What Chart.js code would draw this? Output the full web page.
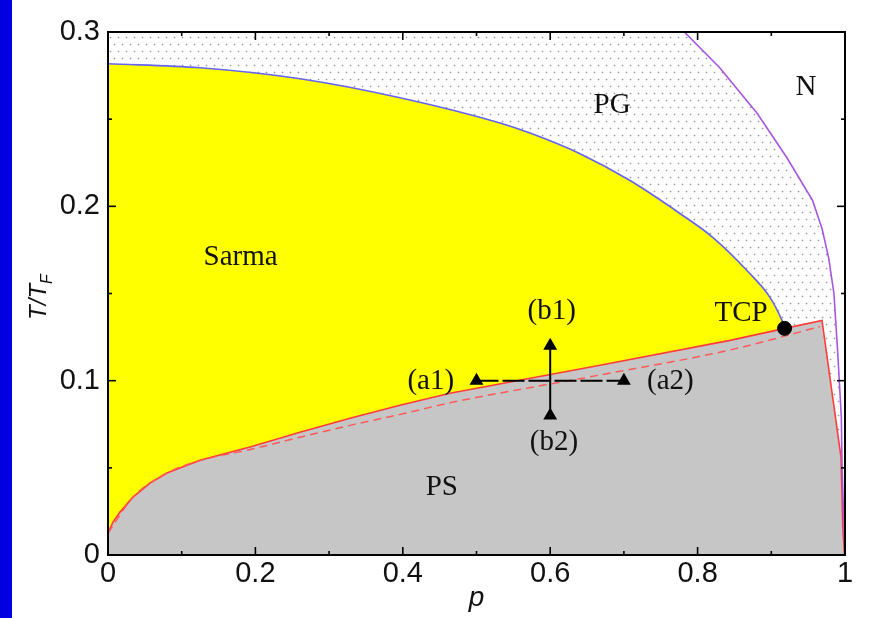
<!DOCTYPE html>
<html><head><meta charset="utf-8">
<script src="https://cdn.jsdelivr.net/npm/chart.js@4.4.1/dist/chart.umd.min.js"></script>
<style>html,body{margin:0;padding:0;background:#fff;overflow:hidden}</style>
</head><body>
<canvas id="c" width="872" height="618"></canvas>
<script>
// ---- tick labels ----
const xTicks = [0, 0.2, 0.4, 0.6, 0.8, 1];
const xMinorTicks = [0.1, 0.3, 0.5, 0.7, 0.9];
const yTicks = [0, 0.1, 0.2, 0.3];
const yMinorTicks = [0.05, 0.15, 0.25];

// ---- Sarma / PG boundary (blue) ----
const sarmaP = [0, 0.1248, 0.2605, 0.3962, 0.5319, 0.5726, 0.6404, 0.7083, 0.7761, 0.8209, 0.8670, 0.8982, 0.9145, 0.9186];
const sarmaT = [0.2818, 0.2795, 0.2732, 0.2623, 0.2478, 0.2420, 0.2302, 0.2148, 0.1959, 0.1821, 0.1632, 0.1478, 0.1346, 0.1300];

// ---- PS boundary (solid red) ----
const psP = [0, 0.0068, 0.0163, 0.0339, 0.057, 0.080, 0.1248, 0.1927, 0.2605, 0.3284, 0.3962, 0.464, 0.6676, 0.844, 0.9186, 0.9688, 0.9946, 0.997, 0.9993];
const psT = [0.0126, 0.0189, 0.0246, 0.0332, 0.0412, 0.047, 0.0544, 0.0619, 0.0704, 0.0785, 0.0859, 0.0928, 0.1088, 0.1231, 0.1300, 0.1346, 0.056, 0.016, 0.0];

// ---- dashed red boundary ----
const dashP = [0, 0.034, 0.080, 0.125, 0.193, 0.26, 0.33, 0.40, 0.464, 0.668, 0.844, 0.966];
const dashT = [0.0126, 0.0332, 0.047, 0.0542, 0.0605, 0.0675, 0.0745, 0.081, 0.0873, 0.1033, 0.1176, 0.131];

// ---- N boundary (purple) ----
const nP = [0.782, 0.830, 0.881, 0.921, 0.956, 0.969, 0.978, 0.985, 0.990, 0.995, 0.996, 0.998, 1.0];
const nT = [0.300, 0.2795, 0.2532, 0.2280, 0.2034, 0.1870, 0.1700, 0.1500, 0.1170, 0.0790, 0.0504, 0.025, 0.0];

// ---- tricritical point and paths ----
const tcpP = [0.918];
const tcpT = [0.130];
const pathAP = [0.5, 0.7];
const pathAT = [0.1, 0.1];
const pathBP = [0.6, 0.6];
const pathBT = [0.08, 0.12];

// ---- region / point labels ----
const labelText = ['PG', 'N', 'Sarma', 'TCP', '(b1)', '(a1)', '(a2)', '(b2)', 'PS'];
const labelP = [0.684, 0.947, 0.180, 0.859, 0.602, 0.438, 0.763, 0.605, 0.453];
const labelT = [0.2577, 0.268, 0.1707, 0.1386, 0.1397, 0.0997, 0.0997, 0.0647, 0.039];

const pts = (xs, ys) => xs.map((x, i) => ({x: x, y: ys[i]}));

const dotTile = (() => {
  const c = document.createElement('canvas'); c.width = 8; c.height = 14;
  const g = c.getContext('2d');
  g.fillStyle = '#ffffff'; g.fillRect(0, 0, 8, 14);
  const dot = (x, y) => {
    g.fillStyle = '#e2e2e2';
    g.fillRect(x - 1, y, 1, 1); g.fillRect(x + 1, y, 1, 1); g.fillRect(x, y - 1, 1, 1); g.fillRect(x, y + 1, 1, 1);
    g.fillStyle = '#9a9a9a'; g.fillRect(x, y, 1, 1);
  };
  dot(2, 2); dot(6, 9);
  return c;
})();

const decor = {
  id: 'decor',
  beforeDraw(chart) {
    const ctx = chart.ctx;
    ctx.save();
    ctx.fillStyle = '#ffffff'; ctx.fillRect(0, 0, chart.width, chart.height);
    ctx.fillStyle = '#0000e0'; ctx.fillRect(0, 0, 12, chart.height);
    ctx.restore();
  },
  beforeDatasetsDraw(chart) {
    const ctx = chart.ctx, a = chart.chartArea;
    ctx.save();
    ctx.fillStyle = ctx.createPattern(dotTile, 'repeat');
    ctx.fillRect(a.left, a.top, a.right - a.left, a.bottom - a.top);
    ctx.restore();
  },
  afterDraw(chart) {
    const ctx = chart.ctx, a = chart.chartArea, xs = chart.scales.x, ys = chart.scales.y;
    ctx.save();
    // labels
    ctx.fillStyle = '#111';
    ctx.font = '29px "Liberation Serif", "Times New Roman", serif';
    ctx.textAlign = 'center'; ctx.textBaseline = 'middle';
    labelText.forEach((t, i) => ctx.fillText(t, xs.getPixelForValue(labelP[i]), ys.getPixelForValue(labelT[i])));
    // frame
    ctx.strokeStyle = '#000'; ctx.lineWidth = 2;
    ctx.strokeRect(a.left, a.top, a.right - a.left, a.bottom - a.top);
    // ticks (inward, all four sides)
    ctx.lineWidth = 1.6;
    const seg = (x1, y1, x2, y2) => { ctx.beginPath(); ctx.moveTo(x1, y1); ctx.lineTo(x2, y2); ctx.stroke(); };
    const xt = (v, L) => { const px = xs.getPixelForValue(v); seg(px, a.bottom, px, a.bottom - L); seg(px, a.top, px, a.top + L); };
    const yt = (v, L) => { const py = ys.getPixelForValue(v); seg(a.left, py, a.left + L, py); seg(a.right, py, a.right - L, py); };
    xTicks.forEach(v => xt(v, 8)); xMinorTicks.forEach(v => xt(v, 4));
    yTicks.forEach(v => yt(v, 8)); yMinorTicks.forEach(v => yt(v, 4));
    // axis titles
    ctx.fillStyle = '#111';
    ctx.font = 'italic 28px "Liberation Sans", Arial, sans-serif';
    ctx.textAlign = 'center'; ctx.textBaseline = 'alphabetic';
    ctx.fillText('p', (a.left + a.right) / 2, 606);
    ctx.translate(46, 297); ctx.rotate(-Math.PI / 2);
    const big = 'italic 24px "Liberation Sans", Arial, sans-serif', small = 'italic 16px "Liberation Sans", Arial, sans-serif';
    ctx.font = big; const w1 = ctx.measureText('T/T').width;
    ctx.font = small; const w2 = ctx.measureText('F').width;
    const x0 = -(w1 + w2) / 2;
    ctx.textAlign = 'left';
    ctx.font = big; ctx.fillText('T/T', x0, 0);
    ctx.font = small; ctx.fillText('F', x0 + w1, 6);
    ctx.restore();
  }
};

const tickFont = {family: '"Liberation Sans", Arial, sans-serif', size: 29};

new Chart(document.getElementById('c'), {
  type: 'line',
  data: {
    datasets: [
      {data: pts(sarmaP, sarmaT), borderColor: '#6464f0', borderWidth: 1.6, backgroundColor: '#ffff00', fill: 'origin', pointRadius: 0, cubicInterpolationMode: 'monotone', order: 10},
      {data: pts(psP, psT), borderColor: '#ff3b3b', borderWidth: 1.6, backgroundColor: '#c6c6c6', fill: 'origin', pointRadius: 0, tension: 0, order: 9},
      {data: pts(dashP, dashT), borderColor: '#ff5a5a', borderWidth: 1.5, borderDash: [8, 5], fill: false, pointRadius: 0, cubicInterpolationMode: 'monotone', order: 8},
      {data: pts(nP, nT), borderColor: '#a855e0', borderWidth: 1.6, backgroundColor: '#ffffff', fill: 'end', pointRadius: 0, tension: 0, order: 7},
      {data: pts(pathAP, pathAT), borderColor: '#000', borderWidth: 2, borderDash: [22, 4], fill: false, pointStyle: 'triangle', pointRadius: 6, pointBackgroundColor: '#000', pointBorderColor: '#000', order: 5},
      {data: pts(pathBP, pathBT), borderColor: '#000', borderWidth: 2, fill: false, pointStyle: 'triangle', pointRadius: 6, pointBackgroundColor: '#000', pointBorderColor: '#000', order: 4},
      {data: pts(tcpP, tcpT), showLine: false, pointRadius: 7, pointBackgroundColor: '#000', pointBorderColor: '#000', fill: false, order: 3}
    ]
  },
  options: {
    responsive: false, animation: false, devicePixelRatio: 1,
    layout: {padding: {left: 0, top: 32, right: 27, bottom: 0}},
    plugins: {legend: {display: false}, tooltip: {enabled: false}},
    scales: {
      x: {
        type: 'linear', min: 0, max: 1,
        afterBuildTicks: s => { s.ticks = xTicks.map(v => ({value: v})); },
        afterFit: s => { s.height = 63; },
        ticks: {font: tickFont, color: '#111', padding: 2, maxRotation: 0, autoSkip: false, callback: v => String(v)},
        grid: {display: false, drawTicks: false}, border: {display: false}
      },
      y: {
        type: 'linear', min: 0, max: 0.3,
        afterBuildTicks: s => { s.ticks = yTicks.map(v => ({value: v})); },
        afterFit: s => { s.width = 108; },
        ticks: {font: tickFont, color: '#111', padding: 8, autoSkip: false, callback: v => String(v)},
        grid: {display: false, drawTicks: false}, border: {display: false}
      }
    }
  },
  plugins: [decor]
});
</script>
</body></html>
